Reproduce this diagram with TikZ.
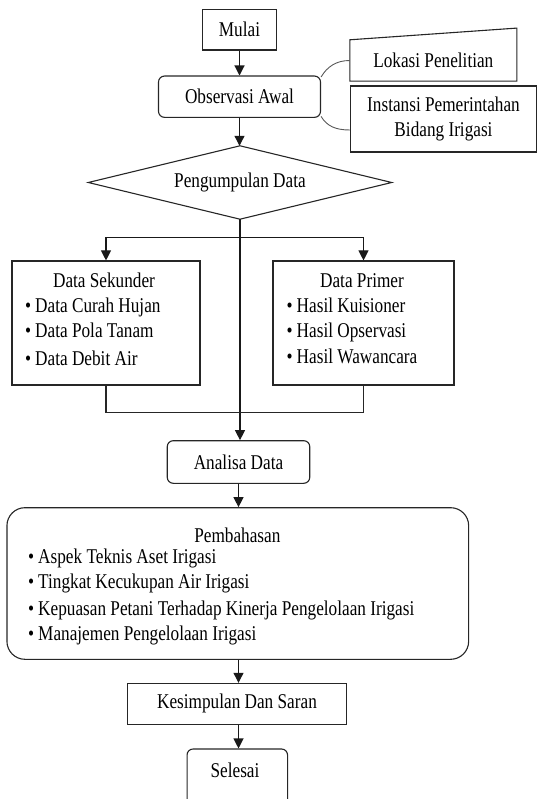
\documentclass[tikz,border=0pt]{standalone}
\usepackage{fontspec}
\setmainfont{Liberation Serif}[FakeStretch=0.82]
\usetikzlibrary{arrows.meta,calc}
\begin{document}
\begin{tikzpicture}[x=1pt,y=-1pt,
  every node/.style={font=\fontsize{21}{25}\selectfont, inner sep=0pt, text=black},
  box/.style={draw=black!85, line width=1.1pt, rectangle},
  rbox/.style={box, rounded corners=6pt},
  lbl/.style={anchor=west, text height=1.5ex, text depth=.25ex},
  clbl/.style={anchor=center, text height=1.5ex, text depth=.25ex},
  arr/.style={line width=1.1pt, draw=black!90, -{Triangle[length=10pt,width=10pt]}},
  ln/.style={line width=1.1pt, draw=black!85},
  curve/.style={line width=0.9pt, draw=black!65}]
\useasboundingbox (0,0) rectangle (538,799);
\clip (0,0) rectangle (538,799);

% top part
\node[box, minimum width=74pt, minimum height=40.7pt] (mulai) at (239.5,29.7) {Mulai};
\node[rbox, minimum width=162pt, minimum height=41.3pt] (obs) at (239.5,96.7) {Observasi Awal};
\node[minimum width=166.6pt, minimum height=41pt] (lok) at (433.3,60.5) {Lokasi Penelitian};
\draw[ln] (lok.south west) -- (lok.south east) -- ([yshift=11.7pt]lok.north east) -- (lok.north west) -- cycle;
\node[box, minimum width=186pt, minimum height=66pt, align=center] (ins) at (443.5,119) {Instansi Pemerintahan\\[0pt]Bidang Irigasi};

\draw[curve] ([yshift=-1.5pt]obs.north east) .. controls +(6,-10) and +(-14,0) .. (lok.west);
\draw[curve] ([yshift=1.5pt]obs.south east) .. controls +(6,10) and +(-14,0) .. ([yshift=-11pt]ins.west);

\node[minimum width=303pt, minimum height=73pt] (dia) at (240,182.5) {Pengumpulan Data};
\draw[ln] (dia.north) -- (dia.east) -- (dia.south) -- (dia.west) -- cycle;

\draw[arr] (mulai.south) -- (obs.north);
\draw[arr] (obs.south) -- (obs.south |- dia.north);

% data boxes
\node[box, minimum width=188pt, minimum height=124pt] (sek) at (106,323) {};
\node[clbl] (sekh) at (104,284.5) {Data Sekunder};
\node[lbl] (sek1) at (25,309.5) {\textbullet\hspace{4pt}Data Curah Hujan};
\node[lbl] (sek2) at (25,334.5) {\textbullet\hspace{4pt}Data Pola Tanam};
\node[lbl] (sek3) at (25,362.5) {\textbullet\hspace{4pt}Data Debit Air};

\node[box, minimum width=181pt, minimum height=124pt] (pri) at (363.5,323) {};
\node[clbl] (prih) at (362,284.5) {Data Primer};
\node[lbl] (pri1) at (286.5,309.5) {\textbullet\hspace{4pt}Hasil Kuisioner};
\node[lbl] (pri2) at (286.5,334.5) {\textbullet\hspace{4pt}Hasil Opservasi};
\node[lbl] (pri3) at (286.5,361) {\textbullet\hspace{4pt}Hasil Wawancara};

\node[rbox, minimum width=142.5pt, minimum height=42.6pt] (ana) at (238.5,462) {Analisa Data};

\coordinate (split) at (239.3,237.3);
\coordinate (merge) at (239.3,412.7);
\draw[arr] (dia.south) -- (dia.south |- ana.north);
\draw[arr] (split) -| (sek.north);
\draw[arr] (split) -| (pri.north);
\draw[ln] (sek.south) |- (merge) -| (pri.south);

% Pembahasan
\node[box, rounded corners=18pt, minimum width=461.7pt, minimum height=151.6pt] (pem) at (237.8,583.5) {};
\node[clbl] (pemh) at (237.4,539.5) {Pembahasan};
\node[lbl] (pem1) at (28,561) {\textbullet\hspace{4pt}Aspek Teknis Aset Irigasi};
\node[lbl] (pem2) at (28,586) {\textbullet\hspace{4pt}Tingkat Kecukupan Air Irigasi};
\node[lbl] (pem3) at (28,613) {\textbullet\hspace{4pt}Kepuasan Petani Terhadap Kinerja Pengelolaan Irigasi};
\node[lbl] (pem4) at (28,638) {\textbullet\hspace{4pt}Manajemen Pengelolaan Irigasi};

\draw[arr] (ana.south) -- (ana.south |- pem.north);

\node[box, minimum width=219.7pt, minimum height=40.7pt] (kes) at (237,703.7) {Kesimpulan Dan Saran};
\draw[arr] (pem.south -| ana.south) -- (ana.south |- kes.north);

\node[rbox, minimum width=100.5pt, minimum height=64pt] (sel) at (237.3,781) {};
\node[clbl] (selt) at (235,774.5) {Selesai};
\draw[arr] (kes.south -| ana.south) -- (ana.south |- sel.north);
\end{tikzpicture}
\end{document}
